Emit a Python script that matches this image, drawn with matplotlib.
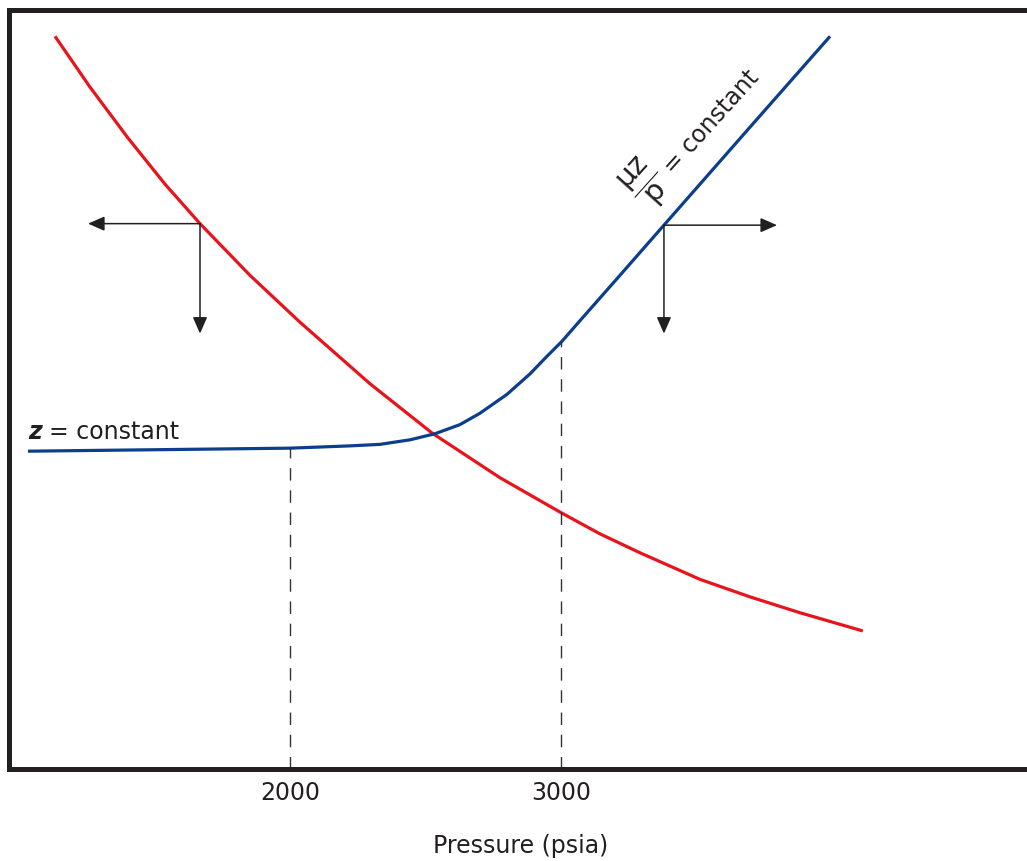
import numpy as np
import matplotlib
matplotlib.use("Agg")
import matplotlib.pyplot as plt

# curves (pressure in psia, y in arbitrary units 0-100)
red_p = [1133, 1262, 1402, 1539, 1668, 1852, 2037, 2295, 2524, 2775,
         3000, 3144, 3292, 3513, 3697, 3882, 4114]
red_y = [96.6, 89.9, 83.2, 77.1, 71.9, 65.1, 58.9, 50.8, 44.3, 38.4,
         33.8, 31.0, 28.5, 25.0, 22.7, 20.6, 18.2]

blue_p = [1033, 1520, 2000, 2221, 2332, 2443, 2535, 2627, 2701, 2801,
          2886, 2948, 3004, 3070, 3218, 3380, 3697, 3993]
blue_y = [41.9, 42.1, 42.3, 42.6, 42.8, 43.4, 44.2, 45.4, 46.9, 49.4,
          52.1, 54.4, 56.4, 59.1, 65.1, 71.7, 84.6, 96.6]

tick_vals = [2000, 3000]
tick_labels = ["2000", "3000"]
drop_tops = [42.3, 56.3]

# arrow groups: (origin p, origin y, horizontal tip p, vertical tip y)
arrow_groups = [(1668, 71.9, 1255, 57.4), (3380, 71.7, 3797, 57.4)]

RED = "#e8141c"
BLUE = "#0b3f8c"
INK = "#231f20"

fig = plt.figure(figsize=(10.27, 8.62), dpi=100)
ax = fig.add_axes([0.00925, 0.10673, 0.99611, 0.87993])
ax.set_xlim(965, 4740)
ax.set_ylim(0, 100)

ax.plot(red_p, red_y, color=RED, lw=2.3, solid_capstyle="butt",
        solid_joinstyle="round")
ax.plot(blue_p, blue_y, color=BLUE, lw=2.3, solid_capstyle="butt",
        solid_joinstyle="round")

for p, top in zip(tick_vals, drop_tops):
    ax.plot([p, p], [0, top], color="#333333", lw=1.0, dashes=(9, 7))

arrow_kw = dict(arrowstyle="-|>,head_length=0.5,head_width=0.22",
                mutation_scale=20, color=INK, lw=1.1, shrinkA=0, shrinkB=0)
for p0, y0, ph, yv in arrow_groups:
    ax.annotate("", xy=(ph, y0), xytext=(p0, y0), arrowprops=arrow_kw)
    ax.annotate("", xy=(p0, yv), xytext=(p0, y0), arrowprops=arrow_kw)

# labels
ax.text(1033, 43.6, "z", fontsize=17, style="italic", fontweight="bold",
        color=INK, ha="left", va="baseline")
ax.text(1112, 43.6, "= constant", fontsize=17, color=INK,
        ha="left", va="baseline")
ax.text(3317, 77.2, r"$\dfrac{\mathrm{μz}}{\mathrm{p}}$", fontsize=21,
        color=INK, rotation=48, rotation_mode="anchor",
        ha="center", va="center")
ax.text(3395, 79.0, "= constant", fontsize=17, color=INK, rotation=48,
        rotation_mode="anchor", ha="left", va="center")

for side in ["left", "top", "bottom"]:
    ax.spines[side].set_linewidth(3.6)
    ax.spines[side].set_color(INK)
ax.spines["right"].set_visible(False)

ax.set_xticks(tick_vals)
ax.set_xticklabels(tick_labels, fontsize=17, color=INK)
ax.tick_params(axis="x", length=0, pad=8)
ax.set_yticks([])
ax.set_xlabel("Pressure (psia)", fontsize=17, color=INK, labelpad=21)

fig.savefig("out.png", dpi=100)
